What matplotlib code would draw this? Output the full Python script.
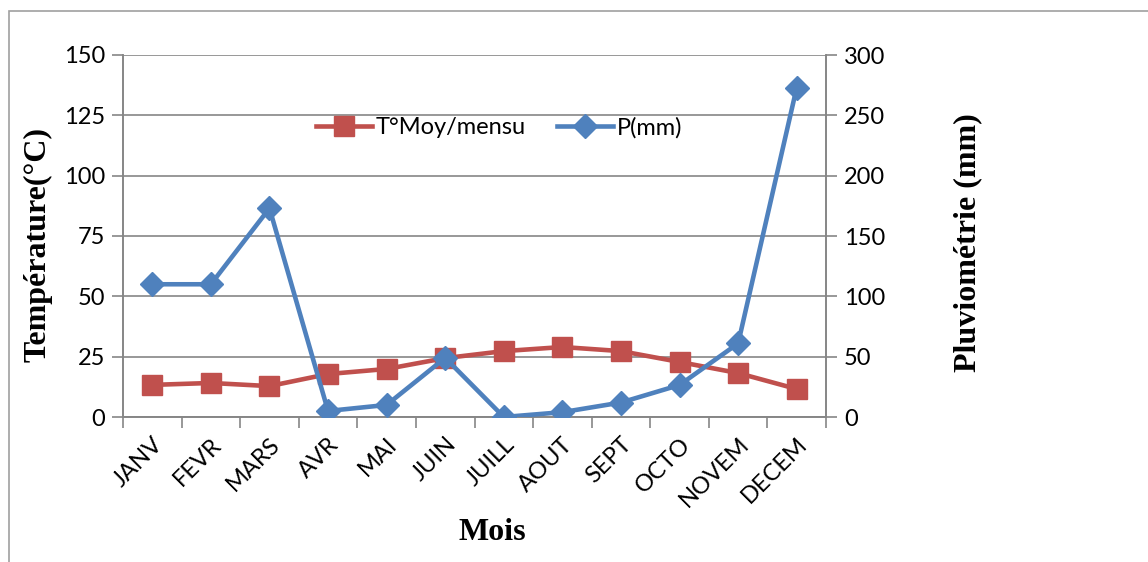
import matplotlib.pyplot as plt
from matplotlib.patches import Rectangle

months = ['JANV', 'FEVR', 'MARS', 'AVR', 'MAI', 'JUIN',
          'JUILL', 'AOUT', 'SEPT', 'OCTO', 'NOVEM', 'DECEM']
temp_moy = [13.3, 14.1, 12.8, 17.8, 19.9, 24.4, 27.3, 29.0, 27.3, 22.8, 18.2, 11.6]
precip_mm = [110, 110, 173, 5, 10, 49, 0, 4, 12, 26.5, 61, 273]

RED = '#C0504D'
BLUE = '#4F81BD'
GRID = '#868686'

plt.rcParams['font.family'] = ['Lato', 'DejaVu Sans']

fig = plt.figure(figsize=(11.48, 5.62), dpi=100)
# chart border (runs off the right and bottom edge)
fig.patches.append(Rectangle((9 / 1148, -0.1), 1.2, (562 - 11) / 562 + 0.1,
                             transform=fig.transFigure, fill=False,
                             edgecolor='#A0A0A0', linewidth=1.2))

ax = fig.add_axes([123 / 1148, (562 - 417) / 562, (826 - 123) / 1148, 362 / 562])
ax2 = ax.twinx()

x = list(range(len(months)))
l1, = ax.plot(x, temp_moy, color=RED, linewidth=3.3, marker='s', markersize=14,
              label='T°Moy/mensu', zorder=3)
l2, = ax2.plot(x, precip_mm, color=BLUE, linewidth=3.3, marker='D', markersize=12,
               label='P(mm)', zorder=3)

ax.set_xlim(-0.5, 11.5)
ax.set_ylim(0, 150)
ax.set_yticks(range(0, 151, 25))
ax2.set_ylim(0, 300)
ax2.set_yticks(range(0, 301, 50))

ax.yaxis.grid(True, color=GRID, linewidth=1.2)
ax.set_axisbelow(True)

ax.set_xticks(x)
ax.set_xticklabels(months, rotation=45, ha='right', va='top', rotation_mode='anchor')
ax.set_xticks([i - 0.5 for i in range(len(months) + 1)], minor=True)
ax.tick_params(axis='x', which='major', length=0, pad=12, labelsize=17)
ax.tick_params(axis='x', which='minor', length=8, width=1.2, color=GRID)
ax.tick_params(axis='y', length=8, width=1.2, color=GRID, labelsize=17, pad=5)
ax2.tick_params(axis='y', length=8, width=1.2, color=GRID, labelsize=17, pad=5)

for a in (ax, ax2):
    a.spines['top'].set_visible(False)
    for s in ('left', 'right', 'bottom'):
        a.spines[s].set_color(GRID)
        a.spines[s].set_linewidth(1.2)

serif = {'family': 'Liberation Serif', 'weight': 'bold', 'size': 23}
fig.text(38 / 1148, 1 - 245 / 562, 'Température(°C)', rotation=90,
         ha='center', va='center', fontdict=serif)
fig.text(968 / 1148, 1 - 243 / 562, 'Pluviométrie (mm)', rotation=90,
         ha='center', va='center', fontdict=serif)
fig.text(492 / 1148, 1 - 533 / 562, 'Mois', ha='center', va='center', fontdict=serif)

leg = ax.legend(handles=[l1, l2], loc='center', bbox_to_anchor=(0.535, 0.8),
                ncol=2, frameon=False, fontsize=17, handlelength=2.4,
                handletextpad=0.15, columnspacing=1.3)

fig.savefig('out.png', dpi=100)
